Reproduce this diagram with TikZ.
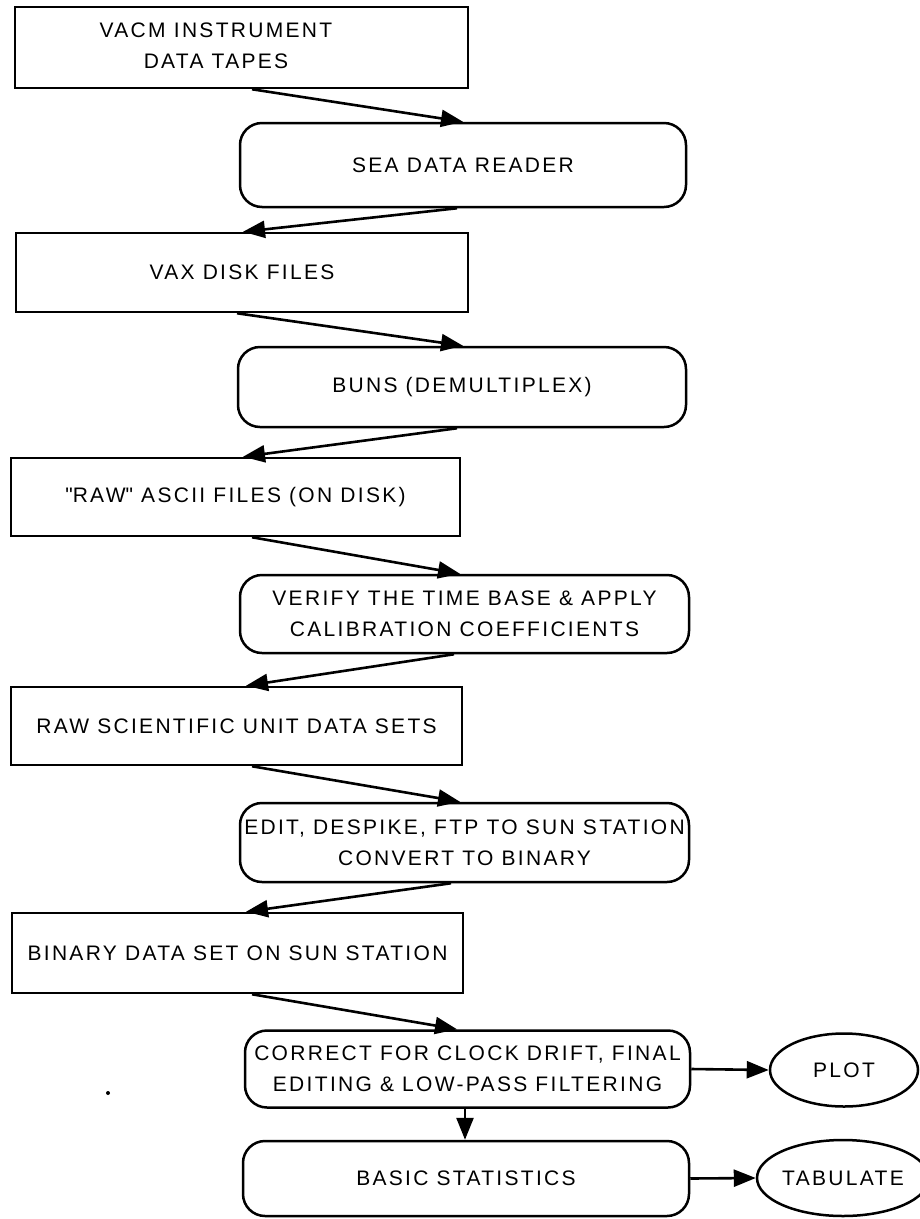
\documentclass[tikz,border=0pt]{standalone}
\usepackage{fontspec}
\setmainfont{Liberation Sans}[LetterSpace=11]
\usetikzlibrary{arrows.meta,shapes.geometric}
\begin{document}
\begin{tikzpicture}[x=1pt,y=-1pt,
  every node/.style={font=\fontsize{21}{31}\selectfont, align=center, inner sep=0pt},
  sqbox/.style={draw, line width=2.5pt, rectangle},
  rndbox/.style={draw, line width=2.5pt, rectangle, rounded corners=22pt},
  oval/.style={draw, line width=2.5pt, ellipse},
  flow/.style={line width=2.6pt, -{Triangle[length=22pt,width=17pt]}},
]
\fill[white] (0,0) rectangle (919,1219);
\useasboundingbox (0,0) rectangle (919,1219);

\node[sqbox, minimum width=453pt, minimum height=81pt] (b1) at (241.5,47.5) {};
\node (b1t) at (216,46) {VACM INSTRUMENT\\DATA TAPES};
\node[rndbox, minimum width=446pt, minimum height=84pt] (b2) at (463,165) {SEA DATA READER};
\node[sqbox, minimum width=452pt, minimum height=79pt] (b3) at (242,272.5) {VAX DISK FILES};
\node[rndbox, minimum width=448pt, minimum height=80pt] (b4) at (462,387) {BUNS (DEMULTIPLEX)};
\node[sqbox, minimum width=449pt, minimum height=78pt] (b5) at (235.5,497) {\textquotedbl RAW\textquotedbl\ ASCII FILES (ON DISK)};
\node[rndbox, minimum width=449pt, minimum height=78pt] (b6) at (464.5,614) {VERIFY THE TIME BASE \& APPLY\\CALIBRATION COEFFICIENTS};
\node[sqbox, minimum width=451pt, minimum height=78pt] (b7) at (236.5,726) {RAW SCIENTIFIC UNIT DATA SETS};
\node[rndbox, minimum width=449pt, minimum height=79pt] (b8) at (464.5,842.5) {EDIT, DESPIKE, FTP TO SUN STATION\\CONVERT TO BINARY};
\node[sqbox, minimum width=451pt, minimum height=80pt] (b9) at (237.5,953) {BINARY DATA SET ON SUN STATION};
\node[rndbox, minimum width=445pt, minimum height=77pt] (b10) at (467.5,1069) {CORRECT FOR CLOCK DRIFT, FINAL\\EDITING \& LOW-PASS FILTERING};
\node[oval, minimum width=148pt, minimum height=73pt] (b11) at (844,1070) {PLOT};
\node[rndbox, minimum width=446pt, minimum height=75pt] (b12) at (466,1178.5) {BASIC STATISTICS};
\node[oval, minimum width=148pt, minimum height=76pt] (b13) at (843,1178) {TABULATE};

\fill (108,1093) circle (2pt);

\draw[flow] ([xshift=10.5pt]b1.south) -- (b2.north);
\draw[flow] ([xshift=-6pt]b2.south) -- ([xshift=1pt]b3.north);
\draw[flow] ([xshift=-5pt]b3.south) -- ([xshift=1pt]b4.north);
\draw[flow] ([xshift=-5pt]b4.south) -- ([xshift=7.5pt]b5.north);
\draw[flow] ([xshift=16.5pt]b5.south) -- ([xshift=-4.5pt]b6.north);
\draw[flow] ([xshift=-10.5pt]b6.south) -- ([xshift=9.5pt]b7.north);
\draw[flow] ([xshift=15.5pt]b7.south) -- ([xshift=-4.5pt]b8.north);
\draw[flow] ([xshift=-13.5pt]b8.south) -- ([xshift=8.5pt]b9.north);
\draw[flow] ([xshift=14.5pt]b9.south) -- ([xshift=-10.5pt]b10.north);
\draw[flow] ([xshift=-2.5pt]b10.south) -- ([xshift=-1pt]b12.north);
\draw[flow] (b10.east) -- (b11.west);
\draw[flow] (b12.east) -- (b13.west);
\end{tikzpicture}
\end{document}
